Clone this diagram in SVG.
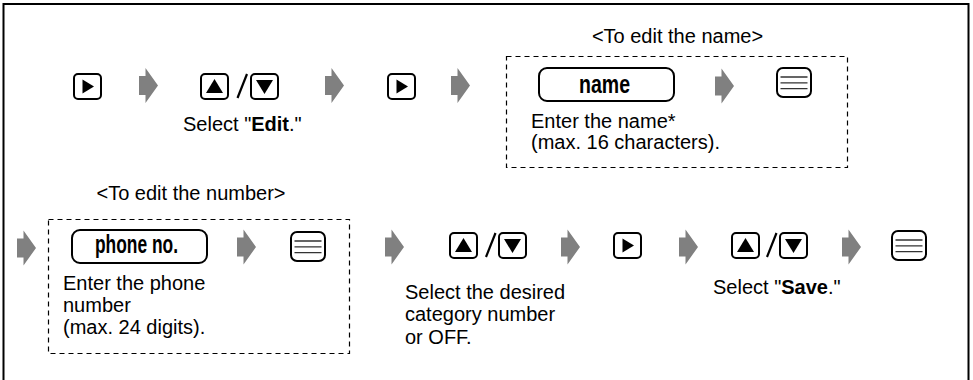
<svg xmlns="http://www.w3.org/2000/svg" xmlns:xlink="http://www.w3.org/1999/xlink" width="973" height="380" viewBox="0 0 973 380">
<style>
.t{font-family:"Liberation Sans",Arial,sans-serif;font-size:20px;fill:#000}
.b{font-weight:bold}
.k{font-family:"Liberation Sans",Arial,sans-serif;font-size:26px;font-weight:bold;fill:#000}
.key{fill:#fff;stroke:#000;stroke-width:2}
.dash{fill:none;stroke:#000;stroke-width:1.2;stroke-dasharray:5 4}
.arr{fill:#808080}
.sl{stroke:#000;stroke-width:2.2;fill:none}
</style>
<defs>
<g id="play"><rect class="key" x="1" y="1" width="27" height="25" rx="4"/><polygon points="9.5,6.5 21,13.5 9.5,20.5" fill="#000"/></g>
<g id="up"><rect class="key" x="1" y="1" width="27" height="25" rx="4"/><polygon points="14.5,6 23,20 6,20" fill="#000"/></g>
<g id="down"><rect class="key" x="1" y="1" width="27" height="25" rx="4"/><polygon points="6,7 23,7 14.5,21" fill="#000"/></g>
<g id="menu"><rect class="key" x="1" y="1" width="34" height="29" rx="6"/><path d="M4.5,10H31.5M4.5,15.8H31.5M4.5,21.6H31.5" stroke="#333" stroke-width="1.3" fill="none"/></g>
<path id="arrow" class="arr" d="M0,-9.5H6.5V-17.5L19,0L6.5,17.5V9.5H0Z"/>
</defs>
<rect x="0" y="0" width="973" height="380" fill="#fff"/>
<rect id="frame" x="3.5" y="4" width="965" height="390" fill="none" stroke="#000" stroke-width="2"/>

<g id="connectors">
<use xlink:href="#arrow" x="139" y="85.5"/>
<use xlink:href="#arrow" x="325" y="85.5"/>
<use xlink:href="#arrow" x="451" y="85.5"/>
<use xlink:href="#arrow" x="715" y="86"/>
<use xlink:href="#arrow" x="17" y="248"/>
<use xlink:href="#arrow" x="237" y="247"/>
<use xlink:href="#arrow" x="385" y="247"/>
<use xlink:href="#arrow" x="561" y="247"/>
<use xlink:href="#arrow" x="679" y="247"/>
<use xlink:href="#arrow" x="842" y="247"/>
</g>

<g id="step1-play"><use xlink:href="#play" x="73" y="73"/></g>

<g id="step2-select-edit">
<use xlink:href="#up" x="200" y="73"/>
<line class="sl" x1="237.5" y1="98" x2="247" y2="74"/>
<use xlink:href="#down" x="250" y="73"/>
<text class="t" x="183" y="131">Select "<tspan class="b">Edit</tspan>."</text>
</g>

<g id="step3-play"><use xlink:href="#play" x="387" y="73"/></g>

<g id="edit-name-group">
<text class="t" x="677.5" y="43" text-anchor="middle">&lt;To edit the name&gt;</text>
<rect class="dash" x="506.5" y="56.5" width="341" height="111"/>
<g id="name-key">
<rect class="key" x="539" y="68" width="135" height="33" rx="8"/>
<text class="k" x="604.5" y="93" text-anchor="middle" textLength="51" lengthAdjust="spacingAndGlyphs">name</text>
</g>
<text class="t" x="531" y="128">Enter the name*</text>
<text class="t" x="531" y="149">(max. 16 characters).</text>
<g id="name-menu"><use xlink:href="#menu" x="776" y="67"/></g>
</g>

<g id="edit-number-group">
<text class="t" x="191" y="200" text-anchor="middle">&lt;To edit the number&gt;</text>
<rect class="dash" x="48.5" y="219.5" width="301" height="134"/>
<g id="phone-key">
<rect class="key" x="72" y="230" width="135" height="33" rx="8"/>
<text class="k" x="136.5" y="253" text-anchor="middle" textLength="83" lengthAdjust="spacingAndGlyphs">phone no.</text>
</g>
<text class="t" x="63" y="290">Enter the phone</text>
<text class="t" x="63" y="312">number</text>
<text class="t" x="63" y="334">(max. 24 digits).</text>
<g id="phone-menu"><use xlink:href="#menu" x="290" y="231"/></g>
</g>

<g id="step-category">
<use xlink:href="#up" x="449" y="232"/>
<line class="sl" x1="486" y1="257" x2="495.5" y2="233"/>
<use xlink:href="#down" x="498" y="232"/>
<text class="t" x="405" y="299">Select the desired</text>
<text class="t" x="405" y="321">category number</text>
<text class="t" x="405" y="344">or OFF.</text>
</g>

<g id="step-play3"><use xlink:href="#play" x="613" y="232"/></g>

<g id="step-select-save">
<use xlink:href="#up" x="731" y="232"/>
<line class="sl" x1="767" y1="257" x2="776.5" y2="233"/>
<use xlink:href="#down" x="779" y="232"/>
<text class="t" x="713" y="294">Select "<tspan class="b">Save</tspan>."</text>
</g>

<g id="step-final-menu"><use xlink:href="#menu" x="891" y="230"/></g>
</svg>
